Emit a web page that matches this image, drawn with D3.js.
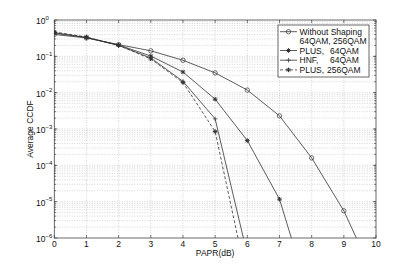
<!DOCTYPE html>
<html>
<head>
<meta charset="utf-8">
<script src="https://cdn.jsdelivr.net/npm/d3@7"></script>
<style>
  body { margin: 0; background: #fff; }
  svg { display: block; font-family: "Liberation Sans", Arial, sans-serif; }
</style>
</head>
<body>
<svg id="chart" width="415" height="268"></svg>
<script>
// PAPR (dB) sample points
const papr = [0, 1, 2, 3, 4, 5, 6, 7, 8, 9, 10];

// CCDF values (points below 1e-6 get clipped)
const withoutShaping = [0.40, 0.32, 0.21, 0.142, 0.078, 0.035, 0.0118, 0.0023, 1.6e-4, 5.6e-6, 6.7e-8];
const plus64 = [0.45, 0.33, 0.205, 0.102, 0.037, 0.0066, 4.8e-4, 1.17e-5, 1.5e-8];
const hnf64 = [0.43, 0.33, 0.20, 0.090, 0.0205, 0.0019, 3.5e-7];
const plus256 = [0.47, 0.34, 0.20, 0.085, 0.019, 8.5e-4, 6.3e-8];

const xTicks = [0, 1, 2, 3, 4, 5, 6, 7, 8, 9, 10];
const yExponents = [0, -1, -2, -3, -4, -5, -6];

const legendRows = [
  { label: "Without Shaping", qam: null, marker: "o", dash: null },
  { label: "64QAM, 256QAM", qam: null, marker: null, dash: null, noLine: true },
  { label: "PLUS,", qam: "64QAM", qamX: 330, marker: "*", dash: null },
  { label: "HNF,", qam: "64QAM", qamX: 330, marker: "+", dash: null },
  { label: "PLUS,", qam: "256QAM", qamX: 327, marker: "*", dash: "3,2" },
];

const series = [
  { values: withoutShaping, marker: "o", dash: null },
  { values: plus64, marker: "*", dash: null },
  { values: hnf64, marker: "+", dash: null },
  { values: plus256, marker: "*", dash: "3,2" },
];

const L = 54.3, R = 376, T = 20, B = 238;
const ink = "#333";

const svg = d3.select("#chart");
const x = d3.scaleLinear().domain([0, 10]).range([L, R]);
const y = d3.scaleLog().domain([1e-6, 1]).range([B, T]);

svg.append("defs").append("clipPath").attr("id", "plotclip")
  .append("rect").attr("x", L).attr("y", T).attr("width", R - L).attr("height", B - T);

// grid: major x, major + minor y
const grid = svg.append("g")
  .attr("stroke", "#b8b8b8").attr("stroke-width", 0.6)
  .attr("stroke-dasharray", "1,1.5").attr("fill", "none");
xTicks.slice(1, -1).forEach(t => {
  grid.append("line").attr("x1", x(t)).attr("x2", x(t)).attr("y1", T).attr("y2", B);
});
const minorY = [];
for (let e = -6; e < 0; e++) {
  for (let m = 1; m <= 9; m++) {
    const v = m * Math.pow(10, e);
    if (v > 1e-6) minorY.push(v);
  }
}
minorY.forEach(v => {
  grid.append("line").attr("x1", L).attr("x2", R).attr("y1", y(v)).attr("y2", y(v));
});

// ticks on all four sides (inward)
const ticks = svg.append("g").attr("stroke", "#444").attr("stroke-width", 0.7);
xTicks.forEach(t => {
  ticks.append("line").attr("x1", x(t)).attr("x2", x(t)).attr("y1", B).attr("y2", B - 3);
  ticks.append("line").attr("x1", x(t)).attr("x2", x(t)).attr("y1", T).attr("y2", T + 3);
});
yExponents.forEach(e => {
  const yy = y(Math.pow(10, e));
  ticks.append("line").attr("x1", L).attr("x2", L + 3).attr("y1", yy).attr("y2", yy);
  ticks.append("line").attr("x1", R).attr("x2", R - 3).attr("y1", yy).attr("y2", yy);
});
minorY.forEach(v => {
  ticks.append("line").attr("x1", L).attr("x2", L + 1.8).attr("y1", y(v)).attr("y2", y(v));
  ticks.append("line").attr("x1", R).attr("x2", R - 1.8).attr("y1", y(v)).attr("y2", y(v));
});

svg.append("rect").attr("x", L).attr("y", T).attr("width", R - L).attr("height", B - T)
  .attr("fill", "none").attr("stroke", "#444").attr("stroke-width", 0.8);

// tick labels
xTicks.forEach(t => {
  svg.append("text").attr("x", x(t)).attr("y", 247.3)
    .attr("text-anchor", "middle").attr("font-size", 8.5).attr("fill", "#111").text(t);
});
yExponents.forEach(e => {
  const yy = y(Math.pow(10, e));
  const txt = svg.append("text").attr("x", 36).attr("y", yy + 4)
    .attr("font-size", 8.5).attr("fill", "#111");
  txt.append("tspan").text("10");
  txt.append("tspan").attr("dy", -4.5).attr("font-size", 6).text(e === 0 ? "0" : "\u2212" + (-e));
});

svg.append("text").attr("x", (L + R) / 2).attr("y", 256.3)
  .attr("text-anchor", "middle").attr("font-size", 8.5).attr("fill", "#111").text("PAPR(dB)");
svg.append("text").attr("transform", `translate(33,${(T + B) / 2}) rotate(-90)`)
  .attr("text-anchor", "middle").attr("font-size", 8.5).attr("fill", "#111").text("Average CCDF");

// markers
function drawMarker(g, cx, cy, kind) {
  if (kind === "o") {
    g.append("circle").attr("cx", cx).attr("cy", cy).attr("r", 2.2)
      .attr("fill", "none").attr("stroke", ink).attr("stroke-width", 0.7);
  } else if (kind === "+" || kind === "*") {
    const s = 2.3;
    const p = d3.path();
    p.moveTo(cx - s, cy); p.lineTo(cx + s, cy);
    p.moveTo(cx, cy - s); p.lineTo(cx, cy + s);
    if (kind === "*") {
      const d = s * 0.72;
      p.moveTo(cx - d, cy - d); p.lineTo(cx + d, cy + d);
      p.moveTo(cx - d, cy + d); p.lineTo(cx + d, cy - d);
    }
    g.append("path").attr("d", p.toString()).attr("fill", "none")
      .attr("stroke", ink).attr("stroke-width", kind === "*" ? 1 : 0.7);
  }
}

const plot = svg.append("g").attr("clip-path", "url(#plotclip)");
const line = d3.line().x((d, i) => x(papr[i])).y(d => y(d));
series.forEach(s => {
  plot.append("path").attr("d", line(s.values))
    .attr("fill", "none").attr("stroke", ink).attr("stroke-width", 0.8)
    .attr("stroke-dasharray", s.dash);
  s.values.forEach((v, i) => {
    if (v >= 1e-6) drawMarker(plot, x(papr[i]), y(v), s.marker);
  });
});

// legend
const lg = svg.append("g");
lg.append("rect").attr("x", 278).attr("y", 25).attr("width", 91).attr("height", 52)
  .attr("fill", "#fff").attr("stroke", "#444").attr("stroke-width", 0.8);
const rowY = [31.7, 40.9, 50.5, 60.2, 69.9];
legendRows.forEach((r, i) => {
  const yy = rowY[i];
  if (!r.noLine) {
    lg.append("line").attr("x1", 280).attr("x2", 297).attr("y1", yy).attr("y2", yy)
      .attr("stroke", ink).attr("stroke-width", 0.8).attr("stroke-dasharray", r.dash);
    drawMarker(lg, 288.5, yy, r.marker);
  }
  lg.append("text").attr("x", 299.5).attr("y", yy + 3.1)
    .attr("font-size", 8.5).attr("fill", "#111").text(r.label);
  if (r.qam) {
    lg.append("text").attr("x", r.qamX).attr("y", yy + 3.1)
      .attr("font-size", 8.5).attr("fill", "#111").text(r.qam);
  }
});
</script>
</body>
</html>
